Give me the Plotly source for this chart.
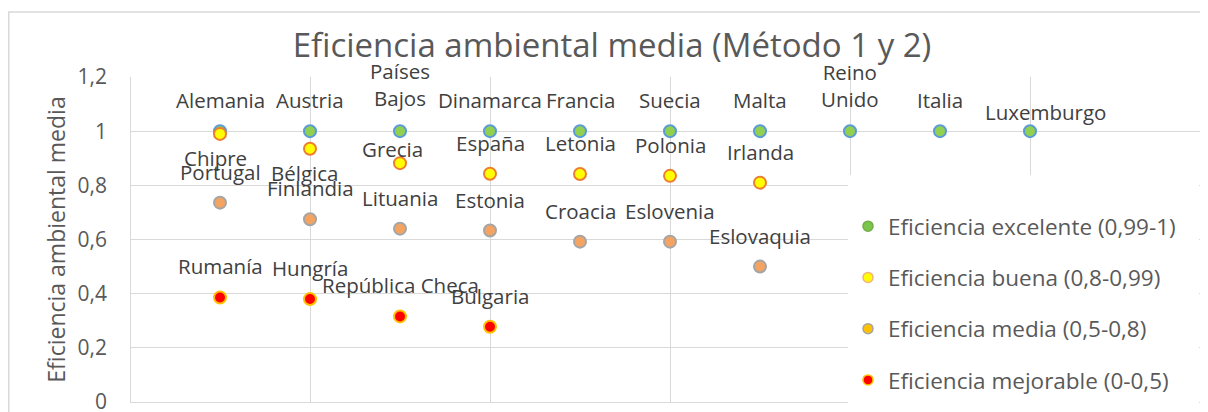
import plotly.graph_objects as go

# ---------------- data ----------------
exc_names = ["Alemania", "Austria", "Países Bajos", "Dinamarca", "Francia",
             "Suecia", "Malta", "Reino Unido", "Italia", "Luxemburgo"]
exc_x = [1, 2, 3, 4, 5, 6, 7, 8, 9, 10]
exc_y = [1, 1, 1, 1, 1, 1, 1, 1, 1, 1]

buena_names = ["Chipre", "Bélgica", "Grecia", "España", "Letonia", "Polonia", "Irlanda"]
buena_x = [1, 2, 3, 4, 5, 6, 7]
buena_y = [0.99, 0.935, 0.882, 0.843, 0.842, 0.835, 0.81]

media_names = ["Portugal", "Finlandia", "Lituania", "Estonia", "Croacia", "Eslovenia", "Eslovaquia"]
media_x = [1, 2, 3, 4, 5, 6, 7]
media_y = [0.736, 0.675, 0.64, 0.633, 0.592, 0.592, 0.5]

mejor_names = ["Rumanía", "Hungría", "República Checa", "Bulgaria"]
mejor_x = [1, 2, 3, 4]
mejor_y = [0.386, 0.38, 0.316, 0.278]

series_names = ["Eficiencia excelente (0,99-1)", "Eficiencia buena (0,8-0,99)",
                "Eficiencia media (0,5-0,8)", "Eficiencia mejorable (0-0,5)"]

y_ticks = [0, 0.2, 0.4, 0.6, 0.8, 1, 1.2]

# ---------------- styling ----------------
TEXT = "#404040"
AXIS = "#595959"
GRID = "#D9D9D9"
FONT = "Open Sans"

plot_styles = [
    dict(fill="#92D050", line="#5B9BD5"),
    dict(fill="#FFFF00", line="#ED7D31"),
    dict(fill="#F4A460", line="#A5A5A5"),
    dict(fill="#FF0000", line="#FFC000"),
]
legend_styles = [
    dict(fill="#7CC44A", line="#70AD47"),
    dict(fill="#FFFF00", line="#F4B183"),
    dict(fill="#FFC000", line="#A5A5A5"),
    dict(fill="#FF0000", line="#FFC000"),
]

# label offsets in pixels (dx, dy up); default above the point
label_offsets = {
    "Países Bajos": (0, 47),
    "Reino Unido": (0, 46),
    "Luxemburgo": (15, 19),
    "Chipre": (-5, -24),
    "Bélgica": (-6, -24),
    "Grecia": (-8, 14),
}
label_text = {"Países Bajos": "Países<br>Bajos", "Reino Unido": "Reino<br>Unido"}

fig = go.Figure()
groups = [(exc_names, exc_x, exc_y), (buena_names, buena_x, buena_y),
          (media_names, media_x, media_y), (mejor_names, mejor_x, mejor_y)]

annotations = []
for i, (names, xs, ys) in enumerate(groups):
    st = plot_styles[i]
    fig.add_trace(go.Scatter(
        x=xs, y=ys, mode="markers", name=series_names[i], showlegend=False,
        marker=dict(size=12, color=st["fill"], line=dict(color=st["line"], width=2)),
        cliponaxis=False, hoverinfo="x+y+text", text=names))
    for n, xv, yv in zip(names, xs, ys):
        dx, dy = label_offsets.get(n, (0, 31))
        annotations.append(dict(
            x=xv, y=yv, xref="x", yref="y", text=label_text.get(n, n),
            showarrow=False, xanchor="center", yanchor="middle",
            xshift=dx, yshift=dy,
            font=dict(family=FONT, size=20.5, color=TEXT)))

# legend entries
for i in range(4):
    st = legend_styles[i]
    fig.add_trace(go.Scatter(
        x=[None], y=[None], mode="markers", name=series_names[i],
        legendgroup=f"g{i}",
        marker=dict(size=10, color=st["fill"], line=dict(color=st["line"], width=1.5))))

# page body has an 8px margin: work in reference pixels minus 8
OFF = 8
W, H = 1200, 404
ML, MR, MT, MB = 130 - OFF, 0, 77 - OFF, 10
pw = W - ML - MR
ph = H - MT - MB

def px_x(p):
    return (p - OFF - ML) / pw

def px_y(p):
    return (H - MB - (p - OFF)) / ph

shapes = [
    # chart outer border
    dict(type="rect", xref="paper", yref="paper",
         x0=px_x(8.8), x1=px_x(1230), y0=px_y(430), y1=px_y(12),
         line=dict(color=GRID, width=1.5), fillcolor="rgba(0,0,0,0)", layer="below"),
    # legend white background
    dict(type="rect", xref="paper", yref="paper",
         x0=px_x(848), x1=px_x(1199), y0=px_y(420), y1=px_y(175),
         line=dict(width=0), fillcolor="white", layer="above"),
]

fig.update_layout(
    width=W, height=H,
    margin=dict(l=ML, r=MR, t=MT, b=MB, autoexpand=False),
    paper_bgcolor="white", plot_bgcolor="white",
    separators=",.",
    font=dict(family=FONT, color=AXIS),
    title=dict(text="Eficiencia ambiental media (Método 1 y 2)",
               x=(612 - OFF) / W, xanchor="center", y=1 - (45 - OFF) / H, yanchor="middle",
               font=dict(family=FONT, size=33, color=AXIS)),
    xaxis=dict(range=[0, pw / 90.0], dtick=2, tick0=0, showticklabels=False,
               showgrid=True, gridcolor=GRID, gridwidth=1.3,
               zeroline=True, zerolinecolor=GRID, zerolinewidth=1.3,
               showline=False, ticks=""),
    yaxis=dict(range=[0, 1.2], tickvals=y_ticks,
               showgrid=True, gridcolor=GRID, gridwidth=1.3,
               zeroline=True, zerolinecolor=GRID, zerolinewidth=1.3,
               showline=False, ticks="", ticklabelstandoff=22,
               ticklabeloverflow="allow",
               tickfont=dict(family=FONT, size=21, color=AXIS),
               title=dict(text="Eficiencia ambiental media", standoff=5,
                          font=dict(family=FONT, size=23, color=AXIS))),
    legend=dict(x=px_x(848), xanchor="left", y=px_y(205), yanchor="top",
                bgcolor="rgba(255,255,255,0)", tracegroupgap=19,
                font=dict(family=FONT, size=22.5, color=AXIS)),
    shapes=shapes,
    annotations=annotations,
)

fig.write_html("out.html")
